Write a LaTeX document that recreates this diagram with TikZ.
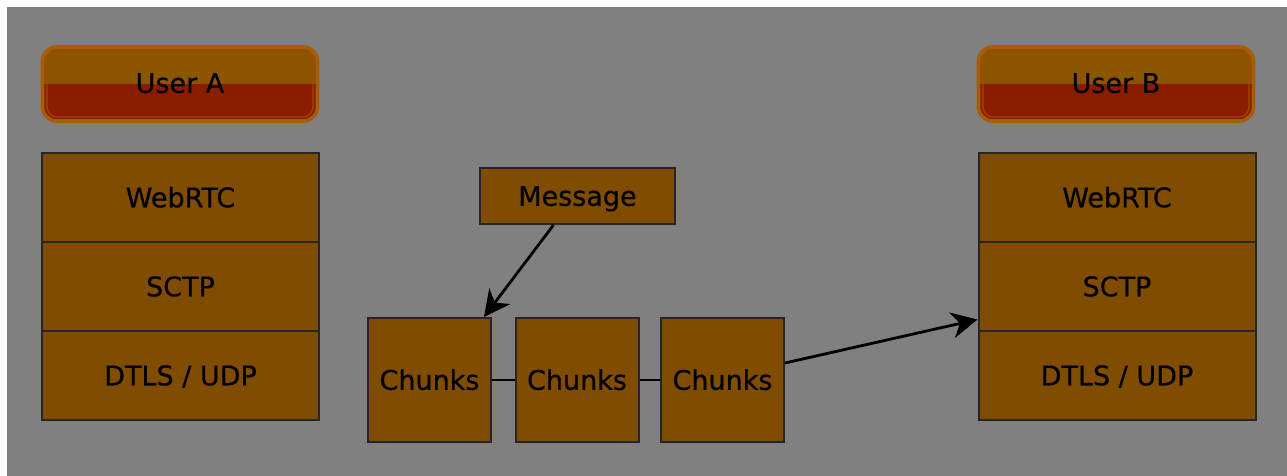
\documentclass[tikz,border=0pt]{standalone}
\usepackage{fontspec}
\setmainfont{DejaVu Sans}[FakeBold=0.6]
\usetikzlibrary{arrows.meta,calc}
\definecolor{canvas}{HTML}{808080}
\definecolor{layerfill}{HTML}{7F4C00}
\definecolor{usertop}{HTML}{8C5500}
\definecolor{userbot}{HTML}{8A1C00}
\definecolor{userrim}{HTML}{A85C08}
\tikzset{
  every node/.style={font=\fontsize{13.5pt}{16pt}\selectfont, text=black,
    text height=9.8pt, text depth=0pt},
  layer/.style={draw=black!85, line width=1pt, fill=layerfill, inner sep=0pt,
    minimum width=138.5pt, minimum height=44.5pt},
  msgbox/.style={draw=black!85, line width=1pt, fill=layerfill, inner sep=0pt,
    minimum width=97.5pt, minimum height=28pt},
  chunkbox/.style={draw=black!85, line width=1pt, fill=layerfill, inner sep=0pt,
    minimum width=61.5pt, minimum height=62pt},
  userbox/.style={inner sep=0pt, minimum width=137pt, minimum height=37pt},
  link/.style={draw=black, line width=1.2pt},
  flow/.style={link, line width=1.4pt, -{Stealth[length=13pt, width=13pt, inset=4pt]}},
}
\newcommand{\userpanel}[2]{%
  % rounded two-tone badge with an orange rim
  \begin{scope}
    \clip[rounded corners=7pt] (#1-137.5,#2-37) rectangle (#1+137.5,#2+37);
    \fill[usertop] (#1-137.5,#2-37) rectangle (#1+137.5,#2);
    \fill[userbot] (#1-137.5,#2) rectangle (#1+137.5,#2+37);
  \end{scope}
  \draw[userrim, line width=1.8pt, rounded corners=7pt] (#1-137.5,#2-37) rectangle (#1+137.5,#2+37);
  \draw[userrim!70!userbot, line width=0.6pt, rounded corners=5pt] (#1-133,#2-33) rectangle (#1+133,#2+33);
}
\begin{document}
\begin{tikzpicture}[x=0.5pt, y=-0.5pt]
  % page with a thin white margin on the top and left
  \fill[white] (0,0) rectangle (1287,476);
  \fill[canvas] (7,7) rectangle (1287,476);
  \useasboundingbox (0,0) rectangle (1287,476);

  % user badges
  \userpanel{180}{84}
  \node[userbox] (userA) at (180,83) {User A};
  \userpanel{1116}{84}
  \node[userbox] (userB) at (1116,83) {User B};

  % protocol stack, left
  \node[layer] (webA)  at (180.5,197.5) {WebRTC};
  \node[layer] (sctpA) at (180.5,286.5) {SCTP};
  \node[layer] (dtlsA) at (180.5,375.5) {DTLS / UDP};

  % protocol stack, right
  \node[layer] (webB)  at (1117,197.5) {WebRTC};
  \node[layer] (sctpB) at (1117,286.5) {SCTP};
  \node[layer] (dtlsB) at (1117,375.5) {DTLS / UDP};

  % message split into chunks
  \node[msgbox] (msg) at (577.5,196) {Message};
  \node[chunkbox] (c1) at (429.5,380) {Chunks};
  \node[chunkbox] (c2) at (577,380) {Chunks};
  \node[chunkbox] (c3) at (722.5,380) {Chunks};

  \draw[link] (c1) -- (c2);
  \draw[link] (c2) -- (c3);
  \draw[flow] ($(msg.south)+(-24,0)$) -- ($(c1.north east)+(-8,0)$);
  \draw[flow] ($(c3.east)+(0,-17)$) -- ($(sctpB.west)+(0,33)$);
\end{tikzpicture}
\end{document}
